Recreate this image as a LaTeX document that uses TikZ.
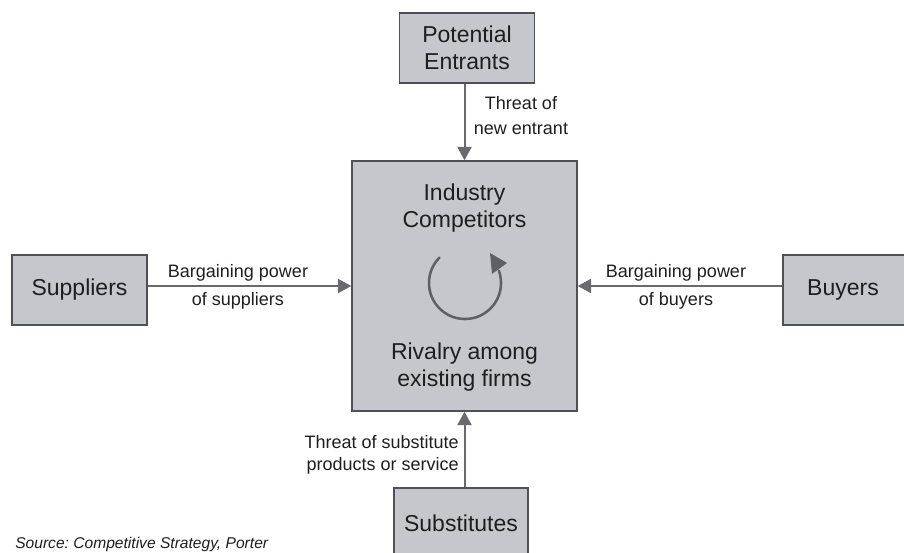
\documentclass[tikz,border=0pt]{standalone}
\usepackage{fontspec}
\setmainfont{Liberation Sans}
\usetikzlibrary{arrows.meta}
\frenchspacing
\definecolor{boxfill}{RGB}{197,199,204}
\definecolor{boxline}{RGB}{80,80,85}
\definecolor{arrowcol}{RGB}{105,105,110}
\definecolor{cyclecol}{RGB}{95,95,100}
\definecolor{txt}{RGB}{30,30,30}
\tikzset{
  forcebox/.style={draw=boxline, fill=boxfill, line width=1.1pt, inner sep=0pt,
    minimum width=#1, minimum height=52.5pt, align=center, text=txt,
    font=\fontsize{17.25}{20.25}\selectfont},
  forcebox/.default=101.25pt,
  boxtext/.style={align=center, text=txt, inner sep=0pt, font=\fontsize{17.25}{20.25}\selectfont},
  lbl/.style={align=center, text=txt, inner sep=0pt},
  force/.style={draw=arrowcol, line width=1.5pt, -{Triangle[length=10pt,width=10.5pt]}}
}
\begin{document}
\begin{tikzpicture}[x=0.75pt,y=-0.75pt]
\useasboundingbox (0,0) rectangle (904,553);
% central box
\node[draw=boxline, fill=boxfill, line width=1.1pt, inner sep=0pt,
      minimum width=168.75pt, minimum height=187.5pt] (IC) at (464.5,286) {};
\node[boxtext] (ICt) at (464.5,208) {Industry\\Competitors};
\node[boxtext] (ICb) at (464.5,367) {Rivalry among\\existing firms};
% surrounding boxes
\node[forcebox] (PE) at (467,48) {Potential\\Entrants};
\node[forcebox] (SU) at (79.5,290) {Suppliers};
\node[forcebox=100.5pt] (BU) at (850,290) {Buyers\hspace*{10.5pt}};
\node[forcebox=100.5pt] (SB) at (461,523) {Substitutes};
% connectors
\draw[force] (PE.south -| IC.north) -- (IC.north);
\draw[force] (SU.east |- IC.west) -- (IC.west);
\draw[force] (BU.west |- IC.east) -- (IC.east);
\draw[force] (SB.north -| IC.south) -- (IC.south);
% labels
\node[lbl, font=\fontsize{13.5}{18.75}\selectfont] (lPE) at (521,116) {Threat of\\new entrant};
\node[lbl, font=\fontsize{13.5}{21}\selectfont] (lSU) at (238,286.4) {Bargaining power\\of suppliers};
\node[lbl, font=\fontsize{13.5}{21}\selectfont] (lBU) at (676,286.4) {Bargaining power\\of buyers};
\node[lbl, align=right, anchor=east, font=\fontsize{13.5}{16.5}\selectfont] (lSB) at (459,454.5) {Threat of substitute\\products or service};
% rivalry cycle
\draw[draw=cyclecol, line width=1.9pt, line cap=round]
  plot[domain=135:380, samples=80] ({465+36*cos(\x)},{283-36*sin(\x)});
\fill[cyclecol] (490,253) -- (507,263) -- (492,274) -- cycle;
% source
\node[anchor=base west, inner sep=0pt, text=txt, font=\fontsize{11.7}{14}\selectfont\itshape] (src) at (15,548) {Source: Competitive Strategy, Porter};
\end{tikzpicture}
\end{document}
